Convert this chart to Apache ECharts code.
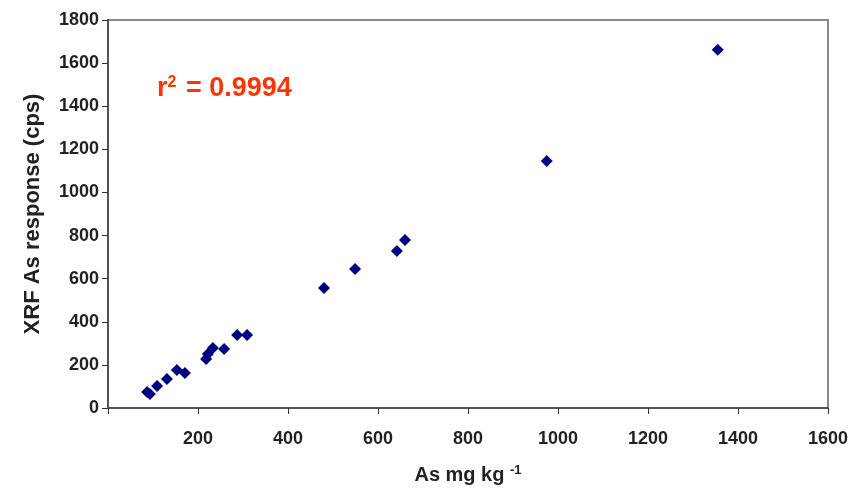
<!DOCTYPE html>
<html>
<head>
<meta charset="utf-8">
<script src="https://cdn.jsdelivr.net/npm/echarts@6/dist/echarts.min.js"></script>
<style>
  html, body { margin: 0; padding: 0; background: #fff; }
  #chart { width: 867px; height: 494px; }
</style>
</head>
<body>
<div id="chart"></div>
<script>
// As concentration (mg/kg) vs XRF response (cps)
var asConc = [87, 93, 109, 131, 153, 171, 218, 222, 233, 258, 287, 309,
              480, 549, 642, 660, 975, 1355];
var xrfCps = [74, 65, 102, 134, 176, 162, 227, 250, 278, 274, 339, 339,
              557, 645, 728, 779, 1146, 1662];
var xTicks = [0, 200, 400, 600, 800, 1000, 1200, 1400, 1600];
var yTicks = [0, 200, 400, 600, 800, 1000, 1200, 1400, 1600, 1800];
var r2Text = "0.9994";

var points = asConc.map(function (x, i) { return [x, xrfCps[i]]; });

var chart = echarts.init(document.getElementById("chart"));
var font = "Liberation Sans, Arial, sans-serif";

chart.setOption({
  backgroundColor: "#fff",
  animation: false,
  grid: { left: 108, right: 39, top: 20, bottom: 86, show: true,
          borderColor: "#888", borderWidth: 2, backgroundColor: "transparent" },
  xAxis: {
    type: "value",
    min: xTicks[0], max: xTicks[xTicks.length - 1], interval: 200,
    name: "As mg kg {sup|-1}",
    nameLocation: "middle",
    nameGap: 56,
    nameTextStyle: {
      fontFamily: font, fontSize: 20, fontWeight: "bold", color: "#222",
      rich: { sup: { fontFamily: font, fontSize: 13, fontWeight: "bold", color: "#222", verticalAlign: "bottom", padding: [0, 0, 9, 0] } }
    },
    axisLine: { lineStyle: { color: "#555", width: 2 } },
    axisTick: { lineStyle: { color: "#333", width: 1 }, length: 6 },
    axisLabel: {
      margin: 22, fontFamily: font, fontSize: 18, fontWeight: "bold", color: "#222",
      formatter: function (v) { return v === 0 ? "" : String(v); }
    },
    splitLine: { show: false }
  },
  yAxis: {
    type: "value",
    min: yTicks[0], max: yTicks[yTicks.length - 1], interval: 200,
    name: "XRF As response (cps)",
    nameLocation: "middle",
    nameGap: 64,
    nameTextStyle: { fontFamily: font, fontSize: 22, fontWeight: "bold", color: "#222" },
    axisLine: { show: true, lineStyle: { color: "#555", width: 2 } },
    axisTick: { show: true, lineStyle: { color: "#333", width: 1 }, length: 6 },
    axisLabel: {
      margin: 9, fontFamily: font, fontSize: 18, fontWeight: "bold", color: "#222",
      formatter: function (v) { return String(v); }
    },
    splitLine: { show: false }
  },
  series: [{
    type: "scatter",
    data: points,
    symbol: "diamond",
    symbolSize: 12,
    itemStyle: { color: "#000080", opacity: 1 }
  }],
  graphic: [{
    type: "text",
    left: 157, top: 75,
    style: {
      text: "{b|r}{s|2}{b| = " + r2Text + "}",
      rich: {
        b: { fontFamily: font, fontSize: 27, fontWeight: "bold", fill: "#ff3300" },
        s: { fontFamily: font, fontSize: 16, fontWeight: "bold", fill: "#ff3300", verticalAlign: "top", padding: [0, 2, 12, 0] }
      }
    }
  }]
});
</script>
</body>
</html>
